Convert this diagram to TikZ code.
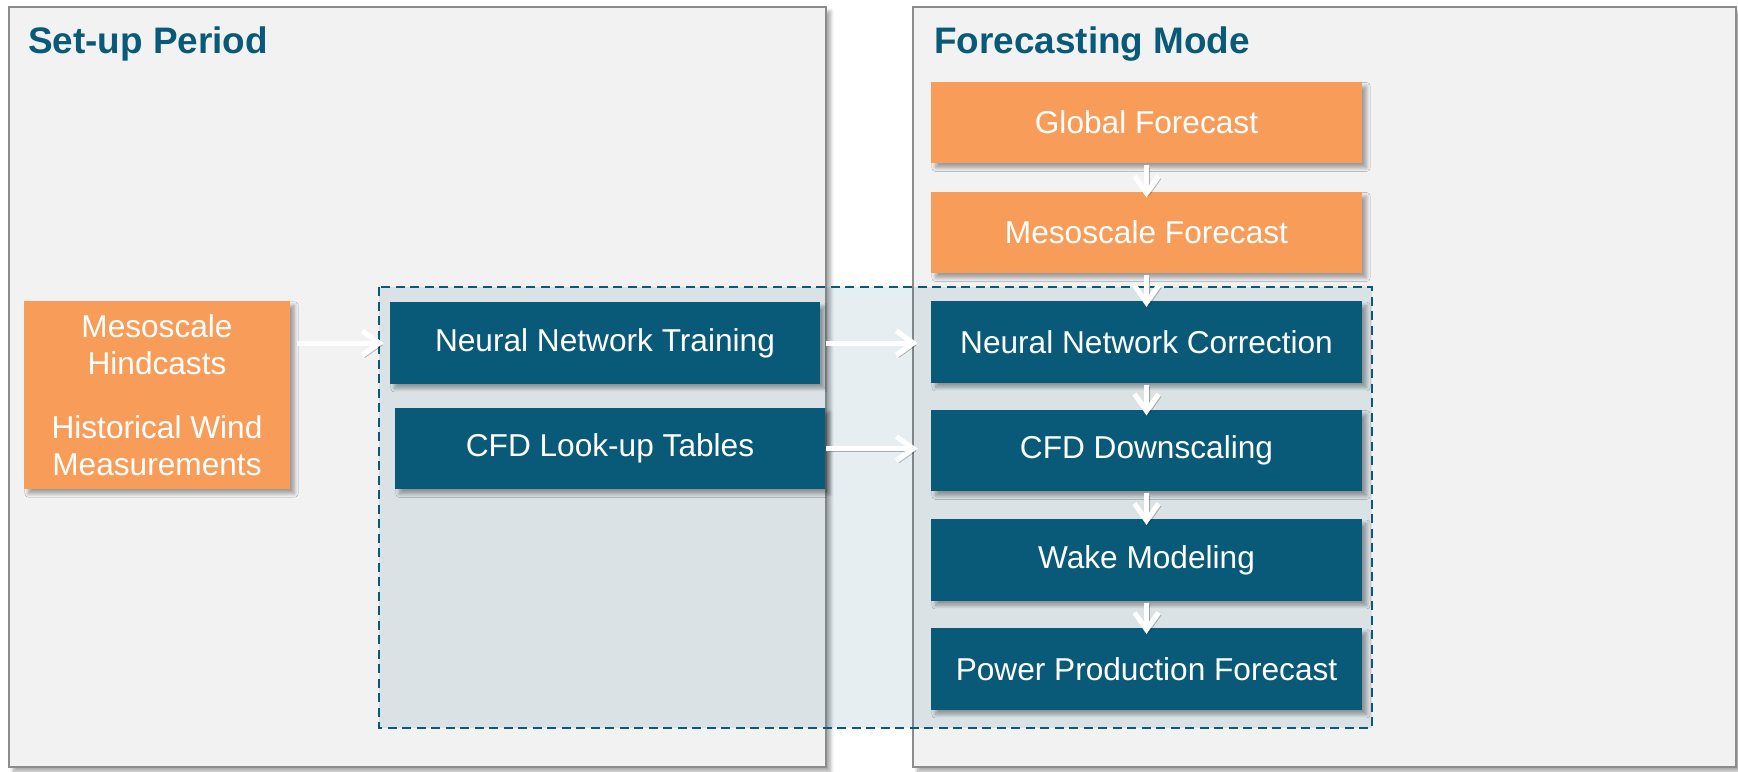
\documentclass[tikz,border=0pt]{standalone}
\usepackage{fontspec}
\setmainfont{Liberation Sans}
\usetikzlibrary{arrows.meta,shadows.blur}
\definecolor{deepteal}{RGB}{9,90,120}
\definecolor{softorange}{RGB}{247,157,89}
\definecolor{panelgray}{RGB}{242,242,242}
\definecolor{panelline}{RGB}{140,140,140}
\tikzset{
  boxshadow/.style={blur shadow={shadow xshift=.9mm,shadow yshift=-.9mm,shadow blur steps=8,shadow opacity=35}},
  stagebox/.style={boxshadow,minimum height=16.3mm,inner sep=0pt,text=white,font=\fontsize{18}{21}\selectfont,align=center},
  inbox/.style={stagebox,fill=softorange},
  procbox/.style={stagebox,fill=deepteal},
  panel/.style={draw=panelline,line width=.4mm,fill=panelgray,boxshadow},
  paneltitle/.style={anchor=base west,text=deepteal,font=\fontsize{21}{25}\selectfont\bfseries},
  flow/.style={draw=white,line width=1mm,-{Straight Barb[length=3.4mm,width=4.8mm]},
    preaction={draw=black,draw opacity=.28,transform canvas={shift={(.5mm,-.5mm)}}}}
}
\begin{document}
\begin{tikzpicture}[x=.2mm,y=-.2mm]
          \useasboundingbox (0,0) rectangle (1738,771);
          \draw[panel] (9,7) rectangle (826,767);
          \draw[panel] (913,7) rectangle (1736,767);
          \node[paneltitle] (setuptitle) at (22,53) {Set-up Period};
          \node[paneltitle] (forecasttitle) at (928,53) {Forecasting Mode};
          \draw[deepteal,line width=.5mm,dash pattern=on 1.8mm off 1.1mm,fill=deepteal,fill opacity=.1] (379,287) rectangle (1372,728);
          \node[inbox,minimum width=53.2mm,minimum height=37.6mm] (hind) at (157,395) {Mesoscale\\Hindcasts\\[5.4mm]Historical Wind\\Measurements};
          \node[procbox,minimum width=86mm] (nntrain) at (605,343) {Neural Network Training};
          \node[procbox,minimum width=86mm] (cfdtab) at (610,448.5) {CFD Look-up Tables};
          \node[inbox,minimum width=86.2mm] (global) at (1146.5,122.5) {Global Forecast};
          \node[inbox,minimum width=86.2mm] (meso) at (1146.5,232.5) {Mesoscale Forecast};
          \node[procbox,minimum width=86.2mm] (nncorr) at (1146.5,342) {Neural Network Correction};
          \node[procbox,minimum width=86.2mm] (cfddown) at (1146.5,450.5) {CFD Downscaling};
          \node[procbox,minimum width=86.2mm] (wake) at (1146.5,560) {Wake Modeling};
          \node[procbox,minimum width=86.2mm] (power) at (1146.5,669) {Power Production Forecast};
          \draw[flow,shorten <=.3mm,shorten >=-1.2mm] (global) -- (meso);
          \draw[flow,shorten <=.3mm,shorten >=-1.2mm] (meso) -- (nncorr);
          \draw[flow,shorten <=.3mm,shorten >=-1.2mm] (nncorr) -- (cfddown);
          \draw[flow,shorten <=.3mm,shorten >=-1.2mm] (cfddown) -- (wake);
          \draw[flow,shorten <=.3mm,shorten >=-1.2mm] (wake) -- (power);
          \draw[flow,shorten <=1.4mm,shorten >=1.2mm] (hind.east |- nntrain.west) -- (nntrain.west);
          \draw[flow,shorten <=1.2mm,shorten >=2.6mm] (nntrain.east) -- (nntrain.east -| nncorr.west);
          \draw[flow,shorten <=.2mm,shorten >=2.6mm] (cfdtab.east) -- (cfdtab.east -| cfddown.west);
        \end{tikzpicture}
\end{document}
